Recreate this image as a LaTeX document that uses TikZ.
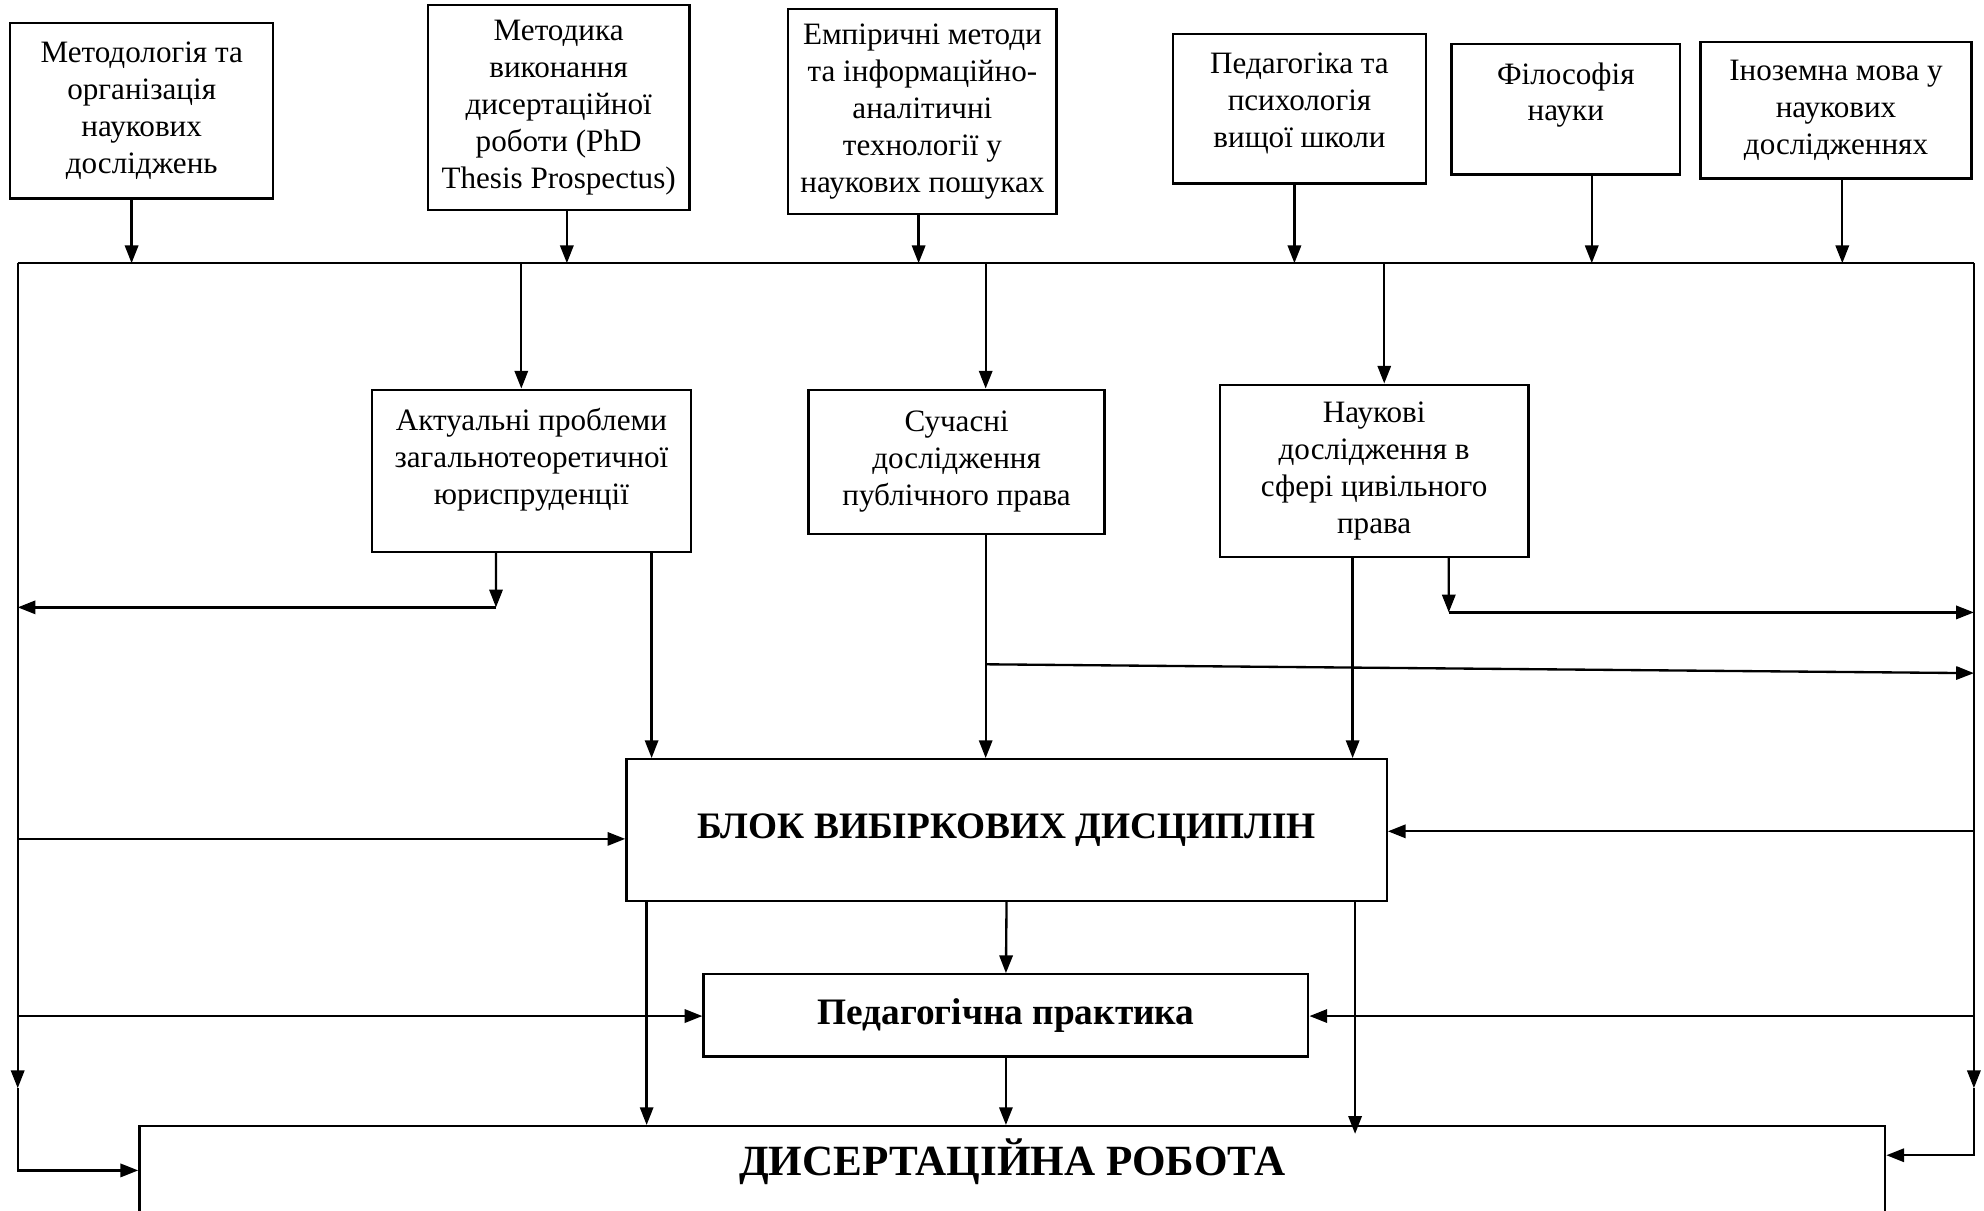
\documentclass[tikz,border=0pt]{standalone}
\usepackage{fontspec}
\setmainfont{Liberation Serif}
\usetikzlibrary{arrows.meta}

\tikzset{
  kasten/.style={draw, align=center, inner sep=1pt, font=\fontsize{14}{16.6}\selectfont},
  fett/.style={kasten, font=\fontsize{16.8}{19}\selectfont\bfseries},
  pfeil/.style={-{Triangle[length=2.8mm,width=2.1mm]}},
}

\begin{document}
\begin{tikzpicture}[x=0.02cm, y=-0.02cm, line width=1.05pt]
            \useasboundingbox (0,0) rectangle (1568,957);
            \clip (0,0) rectangle (1568,957);
            % Obere Kästen
            \node[kasten, minimum width=4.16cm, minimum height=2.78cm] (metod) at (112,87.5) {Методологія та\\організація\\наукових\\досліджень};
            \node[kasten, minimum width=4.14cm, minimum height=3.24cm] (metodyka) at (441.5,85) {Методика\\виконання\\дисертаційної\\роботи (PhD\\Thesis Prospectus)};
            \node[kasten, minimum width=4.24cm, minimum height=3.24cm] (empir) at (729,88) {Емпіричні методи\\та інформаційно-\\аналітичні\\технології у\\наукових пошуках};
            \node[kasten, minimum width=4.0cm, minimum height=2.36cm, text depth=8pt] (pedag) at (1027,86) {Педагогіка та\\психологія\\вищої школи};
            \node[kasten, minimum width=3.62cm, minimum height=2.06cm, text depth=16pt] (filos) at (1237.5,86.5) {Філософія\\науки};
            \node[kasten, minimum width=4.28cm, minimum height=2.16cm] (inozem) at (1451,87) {Іноземна мова у\\наукових\\дослідженнях};
            % Sammelschiene
            \coordinate (busL) at (14,208);
            \coordinate (busR) at (1560,208);
            \draw[] (busL) -- (busR);
            \foreach \n/\s in {metod/-1.6, metodyka/1.3, empir/-0.6, pedag/-0.8, filos/4.1, inozem/1.0}
                \draw[pfeil] ([xshift=\s mm]\n.south) -- ([xshift=\s mm]\n.south |- busL);
            % Mittlere Kästen
            \node[kasten, minimum width=5.04cm, minimum height=2.56cm, text depth=13pt] (aktual) at (420,372) {Актуальні проблеми\\загальнотеоретичної\\юриспруденції};
            \node[kasten, minimum width=4.68cm, minimum height=2.28cm] (suchasni) at (756,365) {Сучасні\\дослідження\\публічного права};
            \node[kasten, minimum width=4.88cm, minimum height=2.72cm] (nauk) at (1086,372) {Наукові\\дослідження в\\сфері цивільного\\права};
            \foreach \n/\s in {aktual/-1.6, suchasni/4.6, nauk/1.6}
                \draw[pfeil] ([xshift=\s mm]\n.north |- busL) -- ([xshift=\s mm]\n.north);
            % Untere Kästen
            \node[fett, minimum width=12.02cm, minimum height=2.24cm] (blok) at (795.5,656) {БЛОК ВИБІРКОВИХ ДИСЦИПЛІН};
            \node[fett, minimum width=9.56cm, minimum height=1.30cm] (prakt) at (795,802.5) {Педагогічна практика};
            \node[fett, font=\fontsize{19.4}{22}\selectfont\bfseries, minimum width=27.6cm, minimum height=1.8cm, text depth=23pt] (dis) at (800,935) {ДИСЕРТАЦІЙНА РОБОТА};
            % Seitenschienen
            \coordinate (railLm) at (14,860);
            \coordinate (railLb) at (14,925);
            \coordinate (railRm) at (1560,860);
            \coordinate (railRb) at (1560,913);
            \draw[pfeil] (busL) -- (railLm);
            \draw[pfeil] (railLm) -- (railLb) -- (railLb -| dis.west);
            \draw[pfeil] (busR) -- (railRm);
            \draw[pfeil] (railRm) -- (railRb) -- (railRb -| dis.east);
            % Abzweige links
            \coordinate (kA) at (392,480);
            \coordinate (lA) at (14,480);
            \coordinate (lB) at (14,663);
            \coordinate (lP) at (14,803);
            \draw[pfeil] ([xshift=-5.6mm]aktual.south) -- (kA);
            \draw[pfeil] (kA) -- (lA);
            \draw[pfeil] (lB) -- (lB -| blok.west);
            \draw[pfeil] (lP) -- (lP -| prakt.west);
            % Abzweige rechts
            \coordinate (kC) at (1145,484);
            \coordinate (rC) at (1560,484);
            \coordinate (brB) at (779,525);
            \coordinate (rS) at (1560,532);
            \coordinate (rB) at (1560,657);
            \coordinate (rP) at (1560,803);
            \draw[pfeil] ([xshift=11.8mm]nauk.south) -- (kC);
            \draw[pfeil] (kC) -- (rC);
            \draw[pfeil] (brB) -- (rS);
            \draw[pfeil] (rB) -- (rB -| blok.east);
            \draw[pfeil] (rP) -- (rP -| prakt.east);
            % Zum Block
            \draw[pfeil] ([xshift=19mm]aktual.south) -- ([xshift=19mm]aktual.south |- blok.north);
            \draw[pfeil] ([xshift=4.6mm]suchasni.south) -- ([xshift=4.6mm]suchasni.south |- blok.north);
            \draw[pfeil] ([xshift=-3.4mm]nauk.south) -- ([xshift=-3.4mm]nauk.south |- blok.north);
            % Zur Dissertation
            \draw[pfeil] (blok.south) -- (prakt.north);
            \draw[pfeil] (prakt.south) -- (prakt.south |- dis.north);
            \draw[pfeil] ([xshift=-56.9mm]blok.south) -- ([xshift=-56.9mm]blok.south |- dis.north);
            \draw[pfeil] ([xshift=55.1mm]blok.south) -- ([xshift=55.1mm, yshift=-1.4mm]blok.south |- dis.north);
        \end{tikzpicture}
\end{document}
